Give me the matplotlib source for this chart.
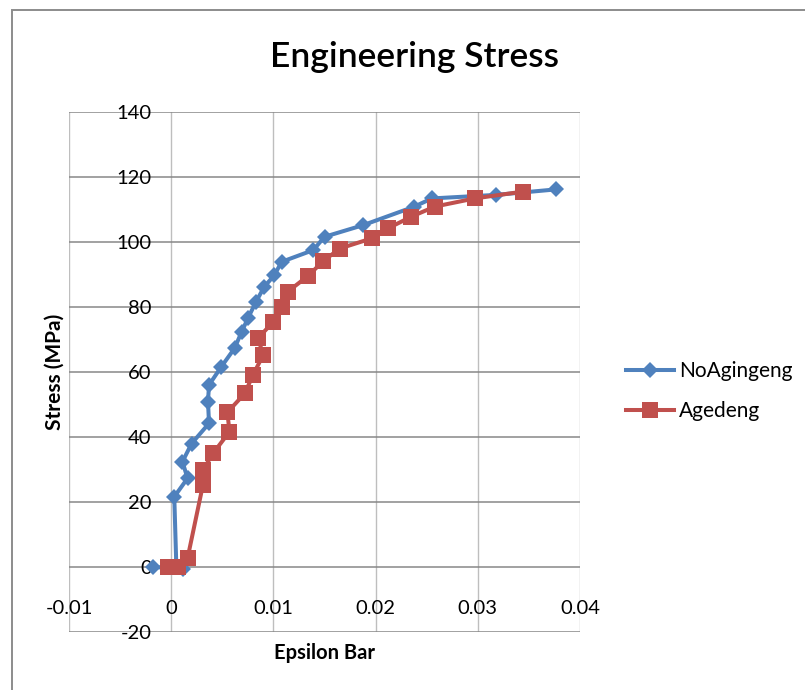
import matplotlib
matplotlib.use("Agg")
import matplotlib.pyplot as plt
from matplotlib.patches import Rectangle

plt.rcParams['font.family'] = ['Lato', 'DejaVu Sans']
plt.rcParams['axes.unicode_minus'] = False

title = "Engineering Stress"
x_label = "Epsilon Bar"
y_label = "Stress (MPa)"
series_names = ["NoAgingeng", "Agedeng"]

noaging_eps = [-0.0018, 0.0012, 0.0005, 0.0003, 0.0016, 0.0011, 0.0020, 0.0037, 0.0036,
               0.0037, 0.0049, 0.0062, 0.0069, 0.0075, 0.0083, 0.0091, 0.0101, 0.0108,
               0.0139, 0.0150, 0.0188, 0.0238, 0.0255, 0.0318, 0.0377]
noaging_stress = [0, -0.5, 0.5, 21.6, 27.3, 32.4, 38.0, 44.2, 50.9,
                  56.0, 61.6, 67.3, 72.4, 76.5, 81.6, 86.2, 89.8, 93.9,
                  97.5, 101.6, 105.2, 110.9, 113.4, 114.5, 116.2]

aged_eps = [-0.0003, 0.0007, 0.0016, 0.0031, 0.0031, 0.0041, 0.0057, 0.0055, 0.0072,
            0.0080, 0.0090, 0.0085, 0.0100, 0.0108, 0.0114, 0.0134, 0.0149, 0.0165,
            0.0196, 0.0212, 0.0235, 0.0258, 0.0297, 0.0344]
aged_stress = [0, 0, 2.7, 25.2, 29.8, 35.0, 41.6, 47.6, 53.4,
               59.1, 65.2, 70.4, 75.5, 80.1, 84.7, 89.6, 94.2, 98.0,
               101.1, 104.2, 107.8, 110.9, 113.4, 115.5]

x_ticks = [-0.01, 0, 0.01, 0.02, 0.03, 0.04]
x_tick_labels = ["-0.01", "0", "0.01", "0.02", "0.03", "0.04"]
y_ticks = [-20, 0, 20, 40, 60, 80, 100, 120, 140]

W, H = 805, 690
fig = plt.figure(figsize=(W / 100, H / 100), dpi=100)
fig.patch.set_facecolor('white')

L, R, T, B = 69, 580, 112, 632
ax = fig.add_axes([L / W, 1 - B / H, (R - L) / W, (B - T) / H])

ax.set_xlim(-0.01, 0.04)
ax.set_ylim(-20, 140)

# gridlines
for xv in x_ticks:
    ax.axvline(xv, color='#BEBEBE', lw=1.0, zorder=0)
for yv in y_ticks:
    ax.axhline(yv, color='#878787', lw=1.1, zorder=0.5)

ax.plot(noaging_eps, noaging_stress, color='#4F81BD', lw=2.9, marker='D',
        markersize=8.5, markeredgewidth=0, label=series_names[0], zorder=3)
ax.plot(aged_eps, aged_stress, color='#C0504D', lw=2.9, marker='s',
        markersize=11.5, markeredgewidth=0, label=series_names[1], zorder=4)

for s in ax.spines.values():
    s.set_visible(False)
ax.spines['left'].set_position(('data', 0))
ax.spines['bottom'].set_position(('data', 0))

ax.set_xticks(x_ticks)
ax.set_xticklabels(x_tick_labels)
ax.set_yticks(y_ticks)
ax.tick_params(axis='both', length=0, labelsize=14.5, colors='#000000')
ax.tick_params(axis='y', pad=14)
ax.tick_params(axis='x', pad=24)

ax.set_xlabel(x_label, fontsize=14.5, fontweight='bold')
ax.set_ylabel(y_label, fontsize=15, fontweight='bold')
ax.xaxis.set_label_coords(0.5, 1 - (653 - T) / (B - T))
ax.xaxis.label.set_va('center')
ax.yaxis.set_label_coords((55 - L) / (R - L), 0.5)
ax.yaxis.label.set_va('center')

fig.text(414 / W, 1 - 57 / H, title, fontsize=25.5, fontweight='semibold',
         ha='center', va='center')

leg = ax.legend(loc='center left', bbox_to_anchor=(626 / W, 1 - 391 / H),
                bbox_transform=fig.transFigure, frameon=False, fontsize=15,
                handlelength=2.3, handletextpad=0.25, labelspacing=0.95,
                borderaxespad=0, borderpad=0)

fig.add_artist(Rectangle((12 / W, -0.2), 2, 1.2 - 10 / H, transform=fig.transFigure,
                         fill=False, edgecolor='#8C8C8C', lw=1.4))

fig.savefig('out.png', dpi=100)
